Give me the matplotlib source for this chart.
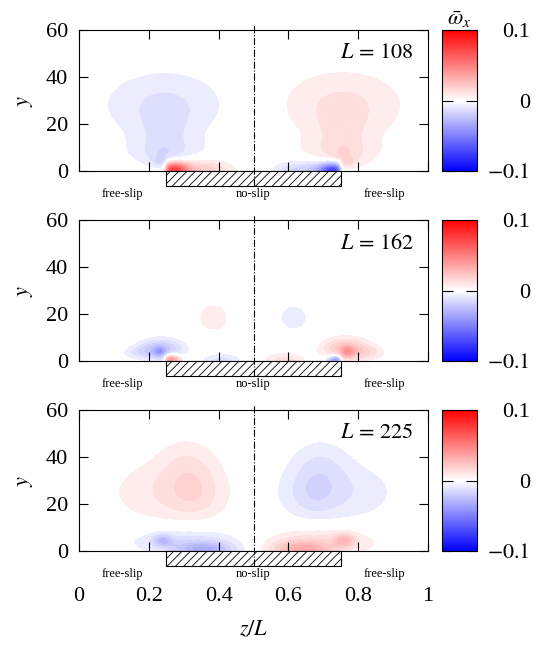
import matplotlib
matplotlib.use("Agg")
import matplotlib.pyplot as plt
import numpy as np
from matplotlib.patches import Rectangle
from matplotlib.cm import ScalarMappable
from matplotlib.colors import Normalize

plt.rcParams['font.family'] = 'serif'
plt.rcParams['font.serif'] = ['Liberation Serif', 'DejaVu Serif']
plt.rcParams['mathtext.fontset'] = 'stix'
plt.rcParams['hatch.linewidth'] = 0.6

# panel labels (domain width L)
L_values = [108, 162, 225]

# vortex blobs on the left half: (z0, y0, width_z, width_y, amplitude, on_plate)
# the right half is the antisymmetric mirror about z = 0.5
blobs_108 = [
    (0.245, 28.0, 0.13, 11.0, -0.011, 0),
    (0.25, 8.0, 0.08, 5.0, -0.009, 0),
    (0.245, 19.0, 0.045, 6.0, -0.006, 0),
    (0.24, 6.0, 0.03, 3.0, -0.005, 0),
    (0.23, 4.0, 0.012, 1.2, -0.008, 0),
    (0.27, 0.5, 0.03, 2.2, 0.070, 1),
    (0.35, 0.5, 0.06, 3.0, 0.020, 1),
]
blobs_162 = [
    (0.235, 5.0, 0.045, 3.2, -0.025, 0),
    (0.17, 3.5, 0.035, 2.0, -0.008, 0),
    (0.23, 4.0, 0.012, 1.5, -0.020, 0),
    (0.385, 18.5, 0.033, 4.5, 0.009, 0),
    (0.26, 0.5, 0.02, 1.5, 0.050, 1),
    (0.41, 0.5, 0.04, 2.0, -0.012, 1),
]
blobs_225 = [
    (0.27, 25.0, 0.13, 10.0, 0.010, 0),
    (0.31, 38.0, 0.06, 8.0, 0.007, 0),
    (0.33, 24.0, 0.05, 7.0, 0.006, 0),
    (0.31, 4.0, 0.12, 4.5, -0.013, 0),
    (0.24, 4.4, 0.02, 2.0, -0.020, 0),
    (0.36, 0.5, 0.06, 2.5, -0.025, 1),
]
panel_blobs = [blobs_108, blobs_162, blobs_225]

plate = (0.25, 0.75)
cbar_ticks = [-0.1, 0, 0.1]
cbar_labels = [r'$-0.1$', '0', '0.1']


def half_field(Z, Y, blobs):
    f = np.zeros_like(Z)
    for z0, y0, sz, sy, a, on_plate in blobs:
        g = a * np.exp(-0.5 * ((Z - z0) / sz) ** 2 - 0.5 * ((Y - y0) / sy) ** 2)
        if on_plate:
            g = g / (1 + np.exp(-(Z - plate[0]) / 0.004))
        f += g
    return f


z = np.linspace(0, 1, 500)
y = np.linspace(0, 60, 240)
Z, Y = np.meshgrid(z, y)

levels = np.concatenate([np.linspace(-0.1, -0.005, 20), np.linspace(0.005, 0.1, 20)])

fig = plt.figure(figsize=(5.42, 6.48), dpi=100)
left, width = 79 / 542, 349 / 542
tops = [30, 220, 410]
h = 141 / 648

for i, (Lv, blobs) in enumerate(zip(L_values, panel_blobs)):
    bottom = 1 - (tops[i] + 141) / 648
    ax = fig.add_axes([left, bottom, width, h])
    w = half_field(Z, Y, blobs) - half_field(1 - Z, Y, blobs)
    ax.contourf(Z, Y, w, levels=levels, cmap='bwr', norm=Normalize(-0.1, 0.1),
                extend='both')
    ax.set_xlim(0, 1)
    ax.set_ylim(0, 60)
    ax.set_xticks([0, 0.2, 0.4, 0.6, 0.8, 1])
    ax.set_yticks([0, 20, 40, 60])
    ax.tick_params(direction='in', top=True, right=True, length=6.5, width=0.8,
                   labelsize=16)
    ax.tick_params(axis='y', pad=8)
    for s in ax.spines.values():
        s.set_linewidth(0.8)
    ax.set_ylabel(r'$y$', fontsize=16, labelpad=8)

    # no-slip plate below the wall
    rect = Rectangle((plate[0], -6.3), plate[1] - plate[0], 6.3, facecolor='white',
                     edgecolor='black', hatch='////', lw=0.8, clip_on=False, zorder=5)
    ax.add_patch(rect)
    ax.plot([0.5, 0.5], [-6.3, 62.5], color='black', ls='-.', lw=0.8,
            clip_on=False, zorder=6)
    ax.text(0.125, -9.6, 'free-slip', ha='center', va='center', fontsize=9)
    ax.text(0.5, -9.6, 'no-slip', ha='center', va='center', fontsize=9)
    ax.text(0.875, -9.6, 'free-slip', ha='center', va='center', fontsize=9)
    ax.text(0.96, 50, r'$L\,=\,%d$' % Lv, ha='right', va='center', fontsize=16)

    if i < 2:
        ax.set_xticklabels([])
    else:
        ax.set_xticklabels(['0', '0.2', '0.4', '0.6', '0.8', '1'])
        ax.tick_params(axis='x', pad=26)
        ax.set_xlabel(r'$z/L$', fontsize=16, labelpad=10)

    cax = fig.add_axes([442 / 542, bottom, 35 / 542, h])
    cb = fig.colorbar(ScalarMappable(norm=Normalize(-0.1, 0.1), cmap='bwr'), cax=cax)
    cb.set_ticks(cbar_ticks, labels=cbar_labels)
    cb.outline.set_linewidth(0.8)
    cax.tick_params(direction='in', left=True, right=True, length=8, width=0.8,
                    labelsize=16, pad=38)
    for lab in cax.get_yticklabels():
        lab.set_ha('right')
    if i == 0:
        cax.set_title(r'$\bar{\omega}_x$', fontsize=16, pad=3)

fig.savefig('out.png', dpi=100)
